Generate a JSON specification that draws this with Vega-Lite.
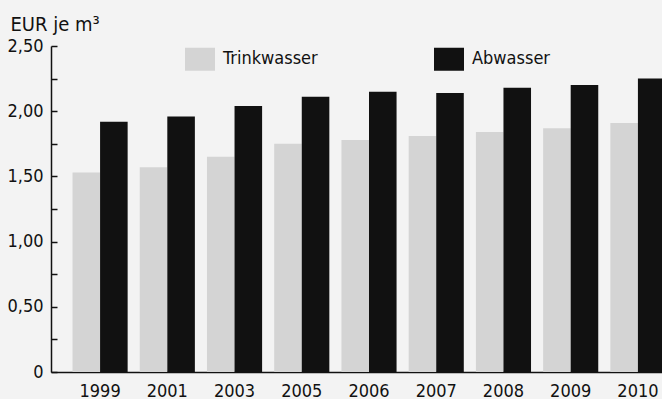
{
  "$schema": "https://vega.github.io/schema/vega-lite/v6.json",
  "autosize": {"type": "none"},
  "padding": {"left": 51, "top": 46, "right": 0, "bottom": 27},
  "width": 611,
  "height": 326,
  "background": "#f3f3f3",
  "config": {"view": {"stroke": null}, "font": "DejaVu Sans Condensed, Liberation Sans, sans-serif"},
  "data": {"values": [
    {"Jahr": "1999", "Art": "Trinkwasser", "Preis": 1.53},
    {"Jahr": "1999", "Art": "Abwasser", "Preis": 1.92},
    {"Jahr": "2001", "Art": "Trinkwasser", "Preis": 1.57},
    {"Jahr": "2001", "Art": "Abwasser", "Preis": 1.96},
    {"Jahr": "2003", "Art": "Trinkwasser", "Preis": 1.65},
    {"Jahr": "2003", "Art": "Abwasser", "Preis": 2.04},
    {"Jahr": "2005", "Art": "Trinkwasser", "Preis": 1.75},
    {"Jahr": "2005", "Art": "Abwasser", "Preis": 2.11},
    {"Jahr": "2006", "Art": "Trinkwasser", "Preis": 1.78},
    {"Jahr": "2006", "Art": "Abwasser", "Preis": 2.15},
    {"Jahr": "2007", "Art": "Trinkwasser", "Preis": 1.81},
    {"Jahr": "2007", "Art": "Abwasser", "Preis": 2.14},
    {"Jahr": "2008", "Art": "Trinkwasser", "Preis": 1.84},
    {"Jahr": "2008", "Art": "Abwasser", "Preis": 2.18},
    {"Jahr": "2009", "Art": "Trinkwasser", "Preis": 1.87},
    {"Jahr": "2009", "Art": "Abwasser", "Preis": 2.20},
    {"Jahr": "2010", "Art": "Trinkwasser", "Preis": 1.91},
    {"Jahr": "2010", "Art": "Abwasser", "Preis": 2.25}
  ]},
  "mark": {"type": "bar"},
  "encoding": {
    "x": {
      "field": "Jahr", "type": "nominal",
      "scale": {"range": [0, 636], "paddingInner": 0.18, "paddingOuter": 0.32},
      "axis": {"title": null, "labelAngle": 0, "ticks": false, "tickSize": 0, "labelPadding": 10,
               "labelFontSize": 18, "labelColor": "#111111", "domainColor": "#111111", "domainWidth": 1.5}
    },
    "xOffset": {"field": "Art", "type": "nominal", "sort": ["Trinkwasser", "Abwasser"]},
    "y": {
      "field": "Preis", "type": "quantitative",
      "scale": {"domain": [0, 2.5], "nice": false},
      "axis": {
        "values": [0, 0.25, 0.5, 0.75, 1, 1.25, 1.5, 1.75, 2, 2.25, 2.5],
        "labelExpr": "datum.value == 0 ? '0' : ((datum.value * 4) % 2 == 0 ? replace(format(datum.value, '.2f'), '.', ',') : '')",
        "grid": false, "tickSize": -6, "labelPadding": 14,
        "labelFontSize": 18, "labelColor": "#111111",
        "domainColor": "#111111", "tickColor": "#111111", "domainWidth": 1.5, "tickWidth": 1.5,
        "title": "EUR je m³", "titleAngle": 0, "titleAlign": "left", "titleBaseline": "alphabetic",
        "titleX": -41, "titleY": -16, "titleFontSize": 20, "titleFontWeight": "normal", "titleColor": "#111111"
      }
    },
    "color": {
      "field": "Art", "type": "nominal",
      "scale": {"domain": ["Trinkwasser", "Abwasser"], "range": ["#d4d4d4", "#111111"]},
      "legend": {
        "title": null, "orient": "none", "legendX": 134, "legendY": -2, "direction": "horizontal",
        "columns": 2, "columnPadding": 116, "padding": 0,
        "symbolType": "M-1,-0.767H1V0.767H-1Z", "symbolSize": 900, "symbolStrokeWidth": 0, "symbolOpacity": 1,
        "labelFontSize": 18, "labelOffset": 8, "labelColor": "#111111"
      }
    }
  }
}
